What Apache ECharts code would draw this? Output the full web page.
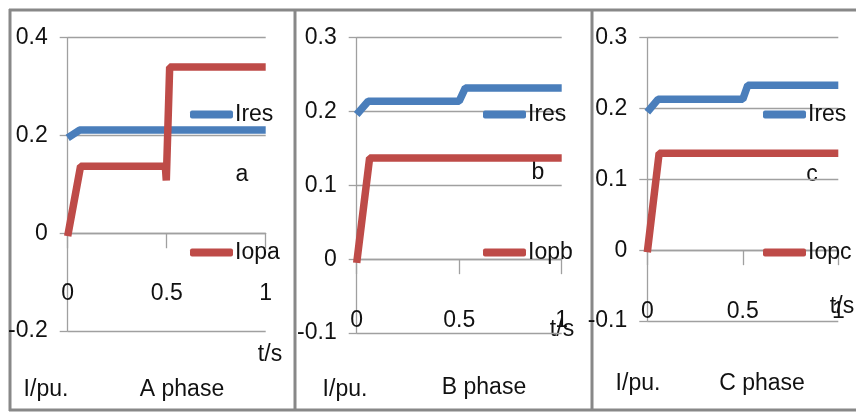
<!DOCTYPE html>
<html>
<head>
<meta charset="utf-8">
<script src="https://cdn.jsdelivr.net/npm/echarts@6/dist/echarts.min.js"></script>
<style>html,body{margin:0;padding:0;background:#fff}#c{width:856px;height:412px}</style>
</head>
<body>
<div id="c"></div>
<script>
// ---- data (time in s, current in pu) ----
const iresA_t = [0, 0.06, 1];
const iresA_v = [0.195, 0.211, 0.211];
const iopA_t = [0, 0.065, 0.493, 0.498, 0.515, 1];
const iopA_v = [-0.006, 0.137, 0.137, 0.108, 0.34, 0.34];

const iresB_t = [0, 0.056, 0.5, 0.53, 1];
const iresB_v = [0.196, 0.214, 0.214, 0.232, 0.232];
const iopB_t = [0, 0.063, 1];
const iopB_v = [-0.005, 0.137, 0.137];

const iresC_t = [0, 0.056, 0.5, 0.526, 1];
const iresC_v = [0.195, 0.213, 0.213, 0.233, 0.233];
const iopC_t = [0, 0.062, 1];
const iopC_v = [-0.003, 0.137, 0.137];

const xTicks = [0, 0.5, 1];
const yRangeA = [-0.2, 0.4, 0.2];
const yRangeBC = [-0.1, 0.3, 0.1];

const names = ['Ires', 'Iopa', 'Iopb', 'Iopc'];
const phaseTitles = ['A phase', 'B phase', 'C phase'];
const letters = ['a', 'b', 'c'];

// ---- helpers ----
const zip = (t, v) => t.map((x, i) => [x, v[i]]);
const FONT_FAMILY = '"Liberation Sans Narrow", "Liberation Sans", Arial, sans-serif';
const FS = 23;
const BLUE = '#4a7ebb', RED = '#be4b48', GRID = '#a0a0a0', BORDER = '#888888';

const grids = [
  { left: 67.7, right: 856 - 265.7, top: 37.7, bottom: 412 - 331 },
  { left: 356.7, right: 856 - 561.7, top: 37.7, bottom: 412 - 333 },
  { left: 647.3, right: 856 - 838.3, top: 37.7, bottom: 412 - 321 }
];
const xLabelMargin = [-49, -24, -21];

const xAxes = grids.map((g, i) => ({
  type: 'value', gridIndex: i, min: xTicks[0], max: xTicks[2], interval: xTicks[1] - xTicks[0],
  axisLine: { onZero: true, lineStyle: { color: GRID, width: 1.3 } },
  axisTick: { show: true, length: 15, lineStyle: { color: GRID, width: 1.3 } },
  splitLine: { show: false },
  axisLabel: { margin: xLabelMargin[i], color: '#111', fontSize: FS, fontFamily: FONT_FAMILY, showMinLabel: true, showMaxLabel: true }
}));

const yAxes = grids.map((g, i) => {
  const r = i === 0 ? yRangeA : yRangeBC;
  return {
    type: 'value', gridIndex: i, min: r[0], max: r[1], interval: r[2],
    axisLine: { show: true, onZero: false, lineStyle: { color: GRID, width: 1.3 } },
    axisTick: { show: true, length: 8, lineStyle: { color: GRID, width: 1.3 } },
    splitLine: { show: true, lineStyle: { color: GRID, width: 1.3 } },
    axisLabel: { margin: 20, color: '#111', fontSize: FS, fontFamily: FONT_FAMILY,
      formatter: v => String(Math.round(v * 10) / 10) }
  };
});

function lineSeries(name, color, data, idx) {
  return {
    type: 'line', name, xAxisIndex: idx, yAxisIndex: idx, data,
    showSymbol: false, symbol: 'none', smooth: false, animation: false,
    lineStyle: { color, width: 7.5 }, itemStyle: { color }
  };
}

const series = [
  lineSeries('Ires', BLUE, zip(iresA_t, iresA_v), 0),
  lineSeries('Iopa', RED, zip(iopA_t, iopA_v), 0),
  lineSeries('Ires', BLUE, zip(iresB_t, iresB_v), 1),
  lineSeries('Iopb', RED, zip(iopB_t, iopB_v), 1),
  lineSeries('Ires', BLUE, zip(iresC_t, iresC_v), 2),
  lineSeries('Iopc', RED, zip(iopC_t, iopC_v), 2)
];

const legendLeft = [190, 483, 763];
const legends = legendLeft.map((l, i) => ({
  data: [names[0], names[i + 1]], orient: 'vertical', left: l, top: 103,
  padding: 0, itemGap: 115, itemWidth: 43, itemHeight: 8, icon: 'roundRect',
  selectedMode: false,
  textStyle: { fontSize: FS, fontFamily: FONT_FAMILY, color: '#111', padding: [0, 0, 0, -3] }
}));

function txt(text, x, y) {
  return { type: 'text', x, y, silent: true,
    style: { text, font: FS + 'px ' + FONT_FAMILY, fill: '#111', align: 'center', verticalAlign: 'middle' } };
}
function ln(x1, y1, x2, y2) {
  return { type: 'line', silent: true, shape: { x1, y1, x2, y2 }, style: { stroke: BORDER, lineWidth: 3 } };
}

const graphic = [
  ln(9, 10, 856, 10), ln(10, 9, 10, 411), ln(295, 9, 295, 411), ln(592, 9, 592, 411), ln(9, 410, 856, 410),
  txt('t/s', 270, 355), txt('I/pu.', 46, 390), txt(phaseTitles[0], 182, 390), txt(letters[0], 242, 175),
  txt('t/s', 562, 330), txt('I/pu.', 345, 390), txt(phaseTitles[1], 484, 388), txt(letters[1], 538, 173),
  txt('t/s', 842, 307), txt('I/pu.', 638, 384), txt(phaseTitles[2], 762, 384), txt(letters[2], 812, 175)
];

const chart = echarts.init(document.getElementById('c'), null, { renderer: 'canvas' });
chart.setOption({
  animation: false,
  backgroundColor: '#fff',
  grid: grids,
  xAxis: xAxes,
  yAxis: yAxes,
  legend: legends,
  series,
  graphic
});
</script>
</body>
</html>
